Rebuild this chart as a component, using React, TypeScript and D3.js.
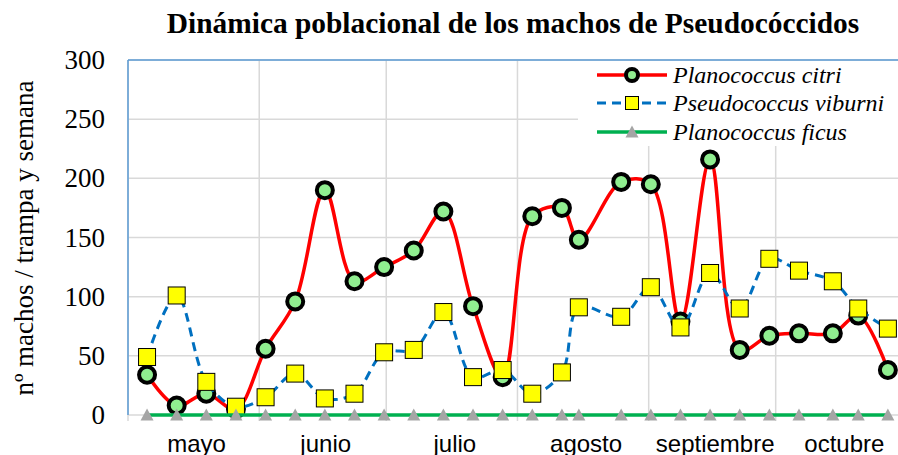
import React from "react";
import * as d3 from "d3";

const dates = [
  "2014-05-05","2014-05-12","2014-05-19","2014-05-26","2014-06-02","2014-06-09","2014-06-16",
  "2014-06-23","2014-06-30","2014-07-07","2014-07-14","2014-07-21","2014-07-28","2014-08-04",
  "2014-08-11","2014-08-15","2014-08-25","2014-09-01","2014-09-08","2014-09-15","2014-09-22",
  "2014-09-29","2014-10-06","2014-10-14","2014-10-20","2014-10-27",
];
const citri = [34, 8, 18, 5, 56, 96, 190, 113, 125, 139, 172, 92, 32, 168, 175, 148, 197, 195, 79, 216, 55, 67, 69, 69, 84, 38];
const viburni = [49, 101, 28, 7, 15, 35, 14, 18, 53, 55, 87, 32, 38, 18, 36, 91, 83, 108, 74, 120, 90, 132, 122, 113, 90, 73];
const ficus = [0, 0, 0, 0, 0, 0, 0, 0, 0, 0, 0, 0, 0, 0, 0, 0, 0, 0, 0, 0, 0, 0, 0, 0, 0, 0];
const monthLabels = ["mayo", "junio", "julio", "agosto", "septiembre", "octubre"];
const yTicks = [0, 50, 100, 150, 200, 250, 300];
const seriesNames = ["Planococcus citri", "Pseudococcus viburni", "Planococcus ficus"];

const W = 898, H = 455;
const left = 128, top = 60, bottom = 415;
const DAY = 86400000;
const parse = (s: string) => new Date(s + "T12:00:00Z");
const start = new Date("2014-05-01T00:00:00Z");
const end = new Date("2014-11-01T00:00:00Z");
const pxPerDay = (775.7 - 128) / 153;
const right = left + ((end.getTime() - start.getTime()) / DAY) * pxPerDay;

export default function App() {
  const x = d3.scaleUtc().domain([start, end]).range([left, right]);
  const y = d3.scaleLinear().domain([0, 300]).range([bottom, top]);
  const xs = dates.map((d) => x(parse(d)));
  const smooth = d3.line<number>().x((_, i) => xs[i]).y((v) => y(v)).curve(d3.curveCatmullRom.alpha(0.5));
  const straight = d3.line<number>().x((_, i) => xs[i]).y((v) => y(v));
  const months = d3.utcMonth.range(start, end);
  const grid = "#D9D9D9";
  const serif = "Liberation Serif, Times New Roman, serif";
  const sans = "Liberation Sans, Arial, sans-serif";

  const circle = (cx: number, cy: number, r = 8) => (
    <circle cx={cx} cy={cy} r={r} fill="#90EE90" stroke="#000" strokeWidth={4} />
  );
  const square = (cx: number, cy: number, s = 17) => (
    <rect x={cx - s / 2} y={cy - s / 2} width={s} height={s} fill="#FFFF00" stroke="#000" strokeWidth={1} />
  );
  const tri = (cx: number, cy: number) => (
    <path d={`M${cx},${cy - 6.5} L${cx + 6.5},${cy + 5.5} L${cx - 6.5},${cy + 5.5} Z`} fill="#A5A5A5" />
  );

  const legendY = [75, 103, 132];

  return (
    <svg width={W} height={H} style={{ position: "absolute", left: 0, top: 0, background: "#fff" }}>
      <rect x={0} y={0} width={W} height={H} fill="#fff" />
      {yTicks.filter((t) => t > 0).map((t) => (
        <line key={t} x1={left} x2={right} y1={y(t)} y2={y(t)} stroke={grid} strokeWidth={1.5} />
      ))}
      {months.map((m, i) => (
        <line key={i} x1={x(m)} x2={x(m)} y1={top} y2={bottom + 6} stroke={grid} strokeWidth={1.5} />
      ))}
      <line x1={x(end)} x2={x(end)} y1={top} y2={bottom + 6} stroke={grid} strokeWidth={1.5} />
      <line x1={left} x2={right} y1={bottom} y2={bottom} stroke={grid} strokeWidth={1.5} />
      <line x1={left} x2={right} y1={top} y2={top} stroke="#5B9BD5" strokeWidth={1.5} />
      <line x1={left} x2={left} y1={top} y2={bottom} stroke="#5B9BD5" strokeWidth={1.5} />
      <rect x={578} y={61} width={330} height={85} fill="#fff" />

      {yTicks.map((t) => (
        <text key={t} x={105} y={y(t) + 9} textAnchor="end" fontFamily={serif} fontSize={27} fill="#000">
          {t}
        </text>
      ))}
      {months.map((m, i) => {
        const next = d3.utcMonth.offset(m, 1);
        const cx = (x(m) + x(next)) / 2 + 3;
        return (
          <text key={i} x={cx} y={452} textAnchor="middle" fontFamily={sans} fontSize={24} fill="#000">
            {monthLabels[i]}
          </text>
        );
      })}
      <text transform={`translate(33,238) rotate(-90)`} textAnchor="middle" fontFamily={serif} fontSize={27} fill="#000">
        nº machos / trampa y semana
      </text>
      <text x={513} y={33} textAnchor="middle" fontFamily={serif} fontWeight="bold" fontSize={29.4} fill="#000">
        Dinámica poblacional de los machos de Pseudocóccidos
      </text>

      <path d={smooth(citri) || ""} fill="none" stroke="#FF0000" strokeWidth={3.5} />
      {citri.map((v, i) => <g key={i}>{circle(xs[i], y(v))}</g>)}
      <path d={smooth(viburni) || ""} fill="none" stroke="#0070C0" strokeWidth={3} strokeDasharray="9,6" />
      {viburni.map((v, i) => <g key={i}>{square(xs[i], y(v))}</g>)}
      <path d={straight(ficus) || ""} fill="none" stroke="#00B050" strokeWidth={3.5} />
      {ficus.map((v, i) => <g key={i}>{tri(xs[i], y(v))}</g>)}

      <line x1={597} x2={667} y1={legendY[0]} y2={legendY[0]} stroke="#FF0000" strokeWidth={3.5} />
      {circle(632, legendY[0], 6)}
      <line x1={597} x2={667} y1={legendY[1]} y2={legendY[1]} stroke="#0070C0" strokeWidth={3} strokeDasharray="9,6" />
      {square(632, legendY[1], 13)}
      <line x1={597} x2={667} y1={legendY[2]} y2={legendY[2]} stroke="#00B050" strokeWidth={3.5} />
      {tri(632, legendY[2])}
      {seriesNames.map((n, i) => (
        <text key={n} x={673} y={legendY[i] + 8} fontFamily={serif} fontStyle="italic" fontSize={24} fill="#000">
          {n}
        </text>
      ))}
    </svg>
  );
}
